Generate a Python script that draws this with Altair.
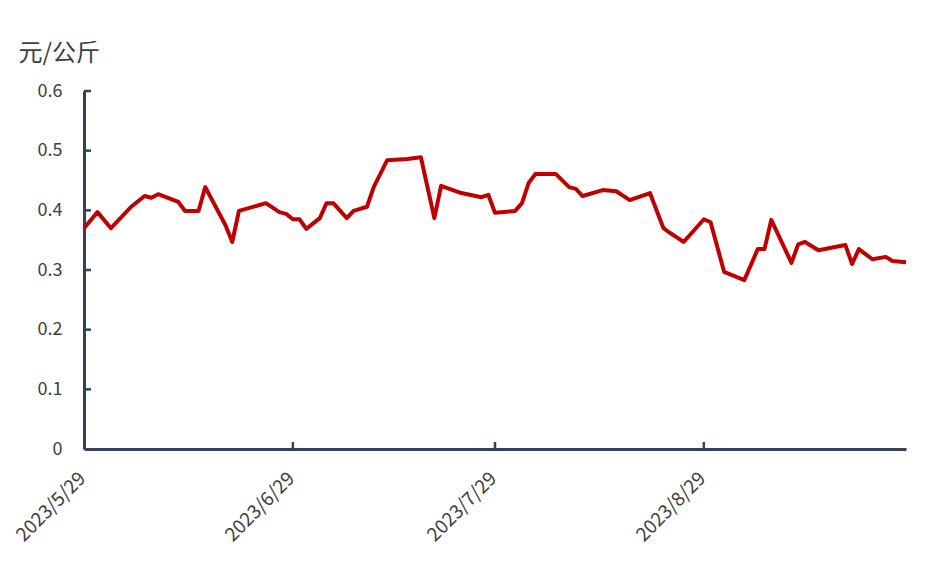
import altair as alt
import pandas as pd

# ---- data ----
dates = [
    "2023-05-29", "2023-05-31", "2023-06-02", "2023-06-05", "2023-06-07", "2023-06-08",
    "2023-06-09", "2023-06-12", "2023-06-13", "2023-06-15", "2023-06-16", "2023-06-19",
    "2023-06-20", "2023-06-21", "2023-06-25", "2023-06-27", "2023-06-28", "2023-06-29",
    "2023-06-30", "2023-07-01", "2023-07-03", "2023-07-04", "2023-07-05", "2023-07-07",
    "2023-07-08", "2023-07-10", "2023-07-11", "2023-07-13", "2023-07-16", "2023-07-18",
    "2023-07-20", "2023-07-21", "2023-07-24", "2023-07-27", "2023-07-28", "2023-07-29",
    "2023-08-01", "2023-08-02", "2023-08-03", "2023-08-04", "2023-08-07", "2023-08-09",
    "2023-08-10", "2023-08-11", "2023-08-14", "2023-08-16", "2023-08-18", "2023-08-21",
    "2023-08-23", "2023-08-24", "2023-08-26", "2023-08-29", "2023-08-30", "2023-09-01",
    "2023-09-04", "2023-09-06", "2023-09-07", "2023-09-08", "2023-09-11", "2023-09-12",
    "2023-09-13", "2023-09-15", "2023-09-19", "2023-09-20", "2023-09-21", "2023-09-23",
    "2023-09-25", "2023-09-26", "2023-09-28",
]
values = [
    0.370, 0.397, 0.370, 0.406, 0.424, 0.421,
    0.427, 0.414, 0.399, 0.399, 0.439, 0.375,
    0.347, 0.399, 0.412, 0.397, 0.394, 0.385,
    0.385, 0.369, 0.387, 0.412, 0.412, 0.387,
    0.399, 0.406, 0.439, 0.484, 0.486, 0.489,
    0.387, 0.441, 0.429, 0.422, 0.426, 0.396,
    0.399, 0.412, 0.446, 0.461, 0.461, 0.439,
    0.436, 0.424, 0.434, 0.432, 0.417, 0.429,
    0.370, 0.362, 0.347, 0.385, 0.380, 0.297,
    0.283, 0.335, 0.335, 0.384, 0.312, 0.343,
    0.347, 0.333, 0.342, 0.310, 0.335, 0.318,
    0.322, 0.315, 0.313,
]
y_ticks = [0, 0.1, 0.2, 0.3, 0.4, 0.5, 0.6]
x_tick_dates = ["2023-05-29", "2023-06-29", "2023-07-29", "2023-08-29"]
y_title = "元/公斤"

AXIS = "#33415a"
TXT = "#404040"
FONT = "Noto Sans CJK SC"

df = pd.DataFrame({"date": dates, "value": values})
yt = pd.DataFrame({"v": y_ticks[1:]})
xt = pd.DataFrame({"d": x_tick_dates[1:]})


def dt(s):
    y, m, d = (int(p) for p in s.split("-"))
    return alt.DateTime(year=y, month=m, date=d, utc=True)


xscale = alt.Scale(type="utc", domain=[dt("2023-05-29"), dt("2023-09-28")])
yscale = alt.Scale(domain=[0, 0.6], nice=False, zero=True)

line = alt.Chart(df).mark_line(color="#C00000", strokeWidth=4, strokeJoin="round").encode(
    x=alt.X(
        "date:T",
        scale=xscale,
        axis=alt.Axis(
            values=[dt(s) for s in x_tick_dates],
            labelExpr="utcFormat(datum.value, '%Y/%-m/%-d')",
            labelAngle=-45,
            labelAlign="right",
            labelBaseline="middle",
            labelPadding=26,
            labelOffset=-2,
            labelFontSize=19,
            labelColor=TXT,
            labelFont=FONT,
            ticks=False,
            grid=False,
            domainColor=AXIS,
            domainWidth=3,
            title=None,
        ),
    ),
    y=alt.Y(
        "value:Q",
        scale=yscale,
        axis=alt.Axis(
            values=y_ticks,
            labelExpr="datum.value == 0 ? '0' : format(datum.value, '.1f')",
            labelPadding=22,
            labelFontSize=18,
            labelColor=TXT,
            labelFont=FONT,
            ticks=False,
            grid=False,
            domainColor=AXIS,
            domainWidth=3,
            title=y_title,
            titleAngle=0,
            titleAlign="left",
            titleBaseline="alphabetic",
            titleX=-66,
            titleY=-31,
            titleFontSize=24,
            titleFontWeight="normal",
            titleColor=TXT,
            titleFont=FONT,
        ),
    ),
)

ytick_rules = alt.Chart(yt).mark_rule(color=AXIS, strokeWidth=2.5).encode(
    y=alt.Y("v:Q", scale=yscale), x=alt.value(0), x2=alt.value(7)
)
xtick_rules = alt.Chart(xt).mark_rule(color=AXIS, strokeWidth=2.5).encode(
    x=alt.X("d:T", scale=xscale), y=alt.value(358), y2=alt.value(351)
)

chart = (
    alt.layer(line, ytick_rules, xtick_rules)
    .properties(
        width=822,
        height=358,
        autosize=alt.AutoSizeParams(type="none"),
        padding={"left": 76, "top": 83, "right": 10, "bottom": 100},
        background="white",
    )
    .configure_view(stroke=None)
)

chart.save("out.html", embed_options={"renderer": "svg", "actions": False})
